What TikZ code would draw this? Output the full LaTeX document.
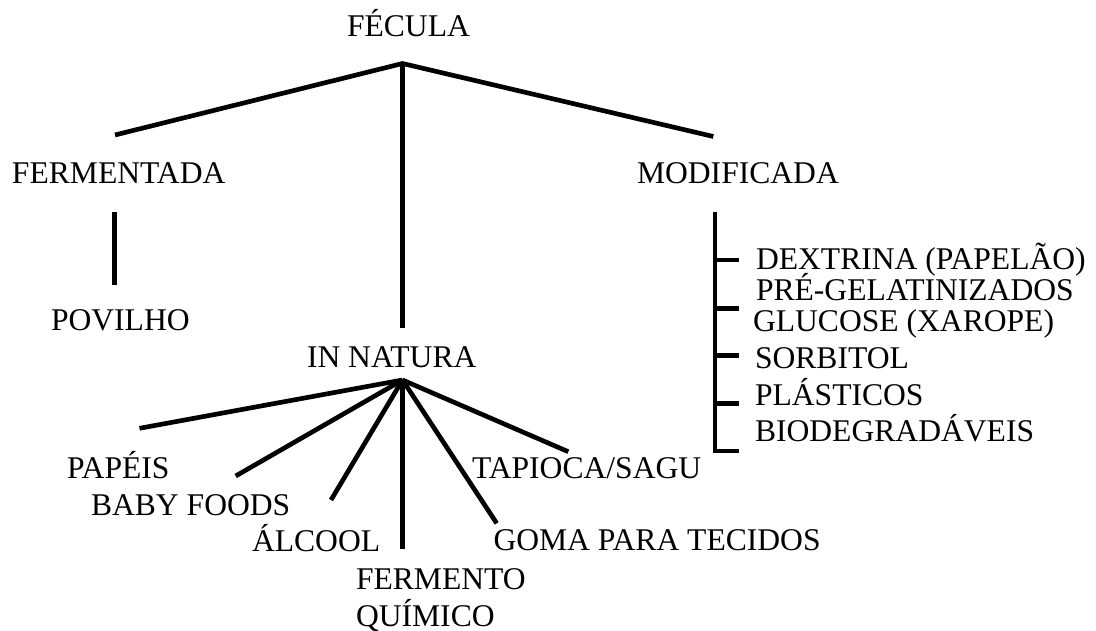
\documentclass[tikz,border=0pt]{standalone}
\usepackage{fontspec}
\setmainfont{Liberation Serif}
\tikzset{
  font=\fontsize{23.7}{28}\selectfont,
  termlabel/.style={anchor=base west, inner sep=0pt, outer sep=0pt},
  branchline/.style={draw=black, line width=3.5pt},
  bracketline/.style={draw=black, line width=3.4pt}
}
\begin{document}
\begin{tikzpicture}[x=0.75pt, y=-0.75pt]
  \useasboundingbox (0,0) rectangle (1096,631);

  % Root and first level
  \node[termlabel] (fecula) at (347,37) {FÉCULA};
  \node[termlabel] (fermentada) at (12,184) {FERMENTADA};
  \node[termlabel] (modificada) at (637,184) {MODIFICADA};
  \node[termlabel] (innatura) at (307,367.3) {IN NATURA};
  \node[termlabel] (povilho) at (51,330.7) {POVILHO};

  \coordinate (fecula-root) at (402.5,63.5);
  \coordinate (fermentada-top) at (115,135);
  \coordinate (innatura-top) at (402.5,328);
  \coordinate (modificada-top) at (713.3,136.5);
  \coordinate (povilho-top) at (114.5,212.5);
  \coordinate (povilho-bot) at (114.5,285);

  \draw[branchline] (fermentada-top) -- (fecula-root) -- (modificada-top);
  \draw[branchline] (fecula-root) -- (innatura-top);
  \draw[branchline] (povilho-top) -- (povilho-bot);

  % In natura uses
  \node[termlabel] (papeis) at (67,478.3) {PAPÉIS};
  \node[termlabel] (babyfoods) at (91,515) {BABY FOODS};
  \node[termlabel] (alcool) at (252,551.5) {ÁLCOOL};
  \node[termlabel] (fermento) at (356,589.3) {FERMENTO};
  \node[termlabel] (quimico) at (356,626.5) {QUÍMICO};
  \node[termlabel] (goma) at (493.5,550.5) {GOMA PARA TECIDOS};
  \node[termlabel] (tapioca) at (472,478.3) {TAPIOCA/SAGU};

  \coordinate (innatura-root) at (402.5,380);
  \coordinate (papeis-end) at (139.5,428.3);
  \coordinate (babyfoods-end) at (235.7,476);
  \coordinate (alcool-end) at (331,500);
  \coordinate (fermento-end) at (402.5,548.5);
  \coordinate (goma-end) at (496.7,523.3);
  \coordinate (tapioca-end) at (568.3,451.7);

  \foreach \leaf in {papeis,babyfoods,alcool,fermento,goma,tapioca}
    \draw[branchline] (innatura-root) -- (\leaf-end);

  % Modified starch bracket
  \node[termlabel] (dextrina) at (756,269) {DEXTRINA (PAPELÃO)};
  \node[termlabel] (pregel) at (756,300) {PRÉ-GELATINIZADOS};
  \node[termlabel] (glucose) at (753,331.7) {GLUCOSE (XAROPE)};
  \node[termlabel] (sorbitol) at (755,368) {SORBITOL};
  \node[termlabel] (plasticos) at (755,405) {PLÁSTICOS};
  \node[termlabel] (biodeg) at (755,441.7) {BIODEGRADÁVEIS};

  \coordinate (bracket-top) at (715,212.5);
  \coordinate (bracket-bot) at (715,453);
  \draw[bracketline] (bracket-top) -- (bracket-bot);
  \foreach \y in {260,308.3,355.7,403.3,451}
    \draw[bracketline] (715,\y) -- (738.5,\y);
\end{tikzpicture}
\end{document}
